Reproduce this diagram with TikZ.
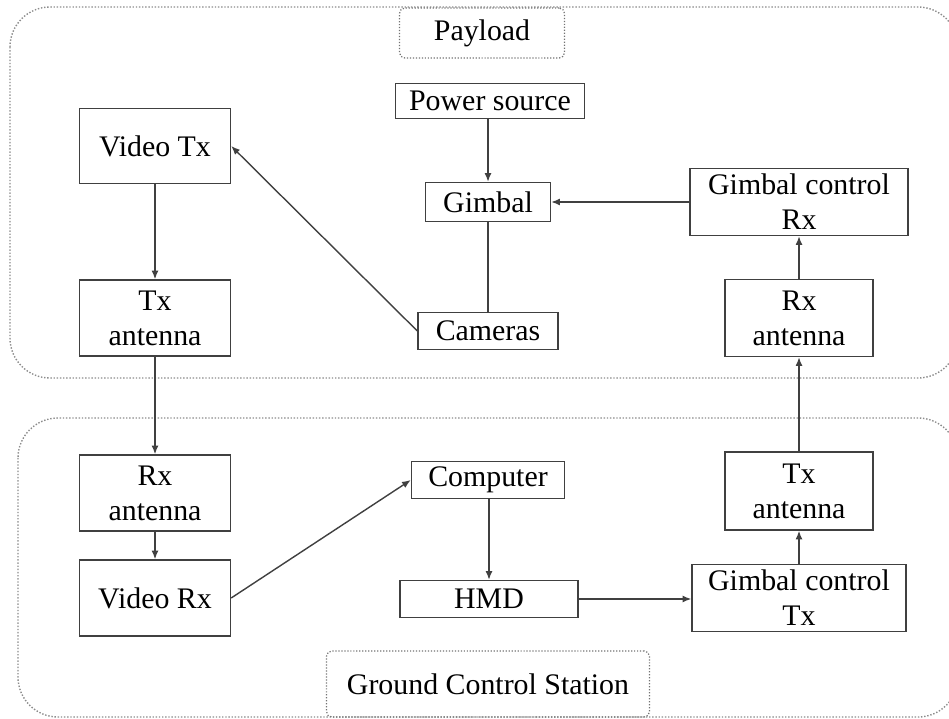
\documentclass[tikz,border=0pt]{standalone}
\usepackage{fontspec}
\setmainfont{Liberation Serif}
\usetikzlibrary{arrows.meta}

\tikzset{
    block/.style={draw=black!75, line width=0.8pt, align=center, inner sep=0pt,
        font=\fontsize{17}{20}\selectfont},
    group/.style={draw=black!45, line width=0.8pt, densely dotted, rounded corners=0.8cm},
    tag/.style={draw=black!55, line width=0.7pt, densely dotted, rounded corners=3pt,
        inner sep=0pt, font=\fontsize{17}{20}\selectfont},
    link/.style={draw=black!75, line width=0.8pt, -{Latex[length=5pt,width=4pt]}}
}

\begin{document}
\begin{tikzpicture}[x=0.02cm, y=-0.02cm]
    \useasboundingbox (0,0) rectangle (949,719);

    % Draw the two groups
    \draw[group] (10,7) rectangle (958,378);
    \draw[group] (18,418) rectangle (958,717);
    \node[tag, minimum width=3.3cm, minimum height=1cm] (payload) at (482,33) {Payload};
    \node[tag, minimum width=6.46cm, minimum height=1.32cm] (gcs) at (488,684) {Ground Control Station};

    % Payload blocks
    \node[block, minimum width=3.02cm, minimum height=1.5cm] (vtx) at (155,146) {Video Tx};
    \node[block, minimum width=3.02cm, minimum height=1.52cm] (txa) at (155,318) {Tx\\antenna};
    \node[block, minimum width=3.78cm, minimum height=0.7cm] (power) at (490,101) {Power source};
    \node[block, minimum width=2.5cm, minimum height=0.78cm] (gimbal) at (488,202) {Gimbal};
    \node[block, minimum width=2.8cm, minimum height=0.74cm] (cams) at (488,331) {Cameras};
    \node[block, minimum width=4.36cm, minimum height=1.34cm] (gcrx) at (799,202) {Gimbal control\\Rx};
    \node[block, minimum width=2.96cm, minimum height=1.54cm] (rxa) at (799,318) {Rx\\antenna};

    % Ground station blocks
    \node[block, minimum width=3.02cm, minimum height=1.52cm] (grxa) at (155,493) {Rx\\antenna};
    \node[block, minimum width=3.02cm, minimum height=1.52cm] (vrx) at (155,598) {Video Rx};
    \node[block, minimum width=3.06cm, minimum height=0.74cm] (pc) at (488,480) {Computer};
    \node[block, minimum width=3.56cm, minimum height=0.74cm] (hmd) at (489,599) {HMD};
    \node[block, minimum width=2.96cm, minimum height=1.56cm] (gtxa) at (799,491) {Tx\\antenna};
    \node[block, minimum width=4.28cm, minimum height=1.34cm] (gctx) at (799,598) {Gimbal control\\Tx};

    % Video path
    \draw[link] (vtx) -- (txa);
    \draw[link] (txa) -- (grxa);
    \draw[link] (grxa) -- (vrx);
    \draw[link] (vrx.east) -- (pc.west);
    \draw[link] (pc.south -| hmd.north) -- (hmd.north);
    \draw[link] (cams.west) -- (vtx.east);

    % Control path
    \draw[link] (hmd.east) -- (hmd.east -| gctx.west);
    \draw[link] (gctx) -- (gtxa);
    \draw[link] (gtxa) -- (rxa);
    \draw[link] (rxa) -- (gcrx);
    \draw[link] (gcrx.west) -- (gimbal.east);
    \draw[link] (power.south -| gimbal.north) -- (gimbal.north);
    \draw[draw=black!75, line width=0.8pt] (gimbal) -- (cams);
\end{tikzpicture}
\end{document}
